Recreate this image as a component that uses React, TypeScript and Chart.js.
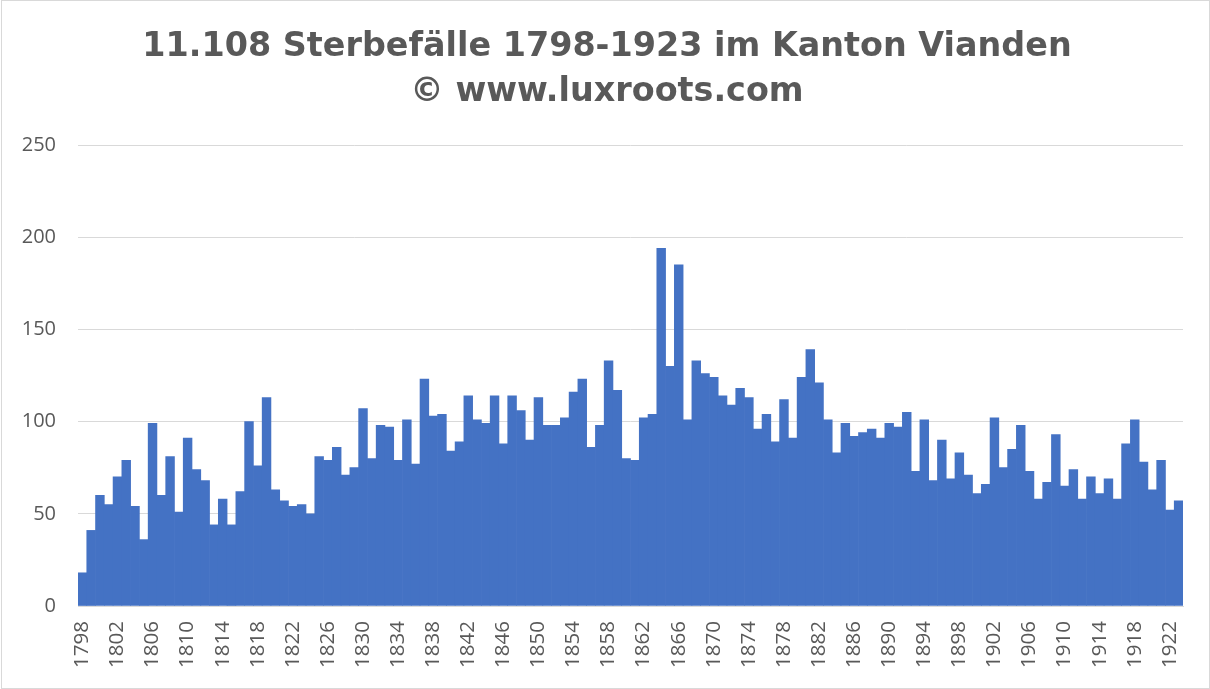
import React, { useEffect, useRef } from "react";
import { Chart, registerables } from "chart.js";

Chart.register(...registerables);

const startYear = 1798;
const deaths: number[] = [
  18, 41, 60, 55, 70, 79, 54, 36, 99, 60, // 1798-1807
  81, 51, 91, 74, 68, 44, 58, 44, 62, 100, // 1808-1817
  76, 113, 63, 57, 54, 55, 50, 81, 79, 86, // 1818-1827
  71, 75, 107, 80, 98, 97, 79, 101, 77, 123, // 1828-1837
  103, 104, 84, 89, 114, 101, 99, 114, 88, 114, // 1838-1847
  106, 90, 113, 98, 98, 102, 116, 123, 86, 98, // 1848-1857
  133, 117, 80, 79, 102, 104, 194, 130, 185, 101, // 1858-1867
  133, 126, 124, 114, 109, 118, 113, 96, 104, 89, // 1868-1877
  112, 91, 124, 139, 121, 101, 83, 99, 92, 94, // 1878-1887
  96, 91, 99, 97, 105, 73, 101, 68, 90, 69, // 1888-1897
  83, 71, 61, 66, 102, 75, 85, 98, 73, 58, // 1898-1907
  67, 93, 65, 74, 58, 70, 61, 69, 58, 88, // 1908-1917
  101, 78, 63, 79, 52, 57, // 1918-1923
];
const years: string[] = deaths.map((_, i) => String(startYear + i));
const titleLines: string[] = [
  "11.108 Sterbefälle 1798-1923 im Kanton Vianden",
  "© www.luxroots.com",
];

const bgPlugin = {
  id: "bgBorder",
  beforeDraw(chart: any) {
    const { ctx, width, height } = chart;
    ctx.save();
    ctx.fillStyle = "#ffffff";
    ctx.fillRect(0, 0, width, height);
    ctx.strokeStyle = "#d9d9d9";
    ctx.lineWidth = 1;
    ctx.strokeRect(1.5, 0.5, width - 2, height - 1);
    ctx.restore();
  },
  afterDraw(chart: any) {
    const { ctx } = chart;
    ctx.save();
    ctx.fillStyle = "#595959";
    ctx.font = "bold 33.4px 'DejaVu Sans', Verdana, sans-serif";
    ctx.textAlign = "center";
    ctx.textBaseline = "middle";
    ctx.fillText(titleLines[0], 607, 47);
    ctx.fillText(titleLines[1], 607, 92);
    ctx.restore();
  },
};

export default function App() {
  const ref = useRef<HTMLCanvasElement | null>(null);
  useEffect(() => {
    if (!ref.current) return;
    const chart = new Chart(ref.current, {
      type: "bar",
      data: {
        labels: years,
        datasets: [
          {
            data: deaths,
            backgroundColor: "#4472C4",
            borderWidth: 0,
            barPercentage: 1,
            categoryPercentage: 1,
          },
        ],
      },
      options: {
        responsive: false,
        animation: false,
        layout: { padding: { left: 0, right: 27, top: 145, bottom: 0 } },
        plugins: {
          legend: { display: false },
          tooltip: { enabled: false },
          title: { display: false },
        },
        scales: {
          x: {
            grid: { display: false, drawTicks: false },
            border: { display: true, color: "#d9d9d9", width: 1 },
            ticks: {
              autoSkip: false,
              minRotation: 90,
              maxRotation: 90,
              padding: 15,
              color: "#595959",
              font: { family: "'Open Sans', 'Noto Sans', sans-serif", size: 20.5 },
              callback: (_v: any, i: number) => (i % 4 === 0 ? years[i] : ""),
            },
            afterFit: (s: any) => {
              s.height = 83;
              s.paddingLeft = 0;
              s.paddingRight = 0;
            },
          },
          y: {
            min: 0,
            max: 250,
            grid: { color: "#d9d9d9", lineWidth: 1, drawTicks: false },
            border: { display: false },
            ticks: {
              stepSize: 50,
              padding: 22,
              color: "#595959",
              font: { family: "'Open Sans', 'Noto Sans', sans-serif", size: 20 },
            },
            afterFit: (s: any) => {
              s.width = 78;
            },
          },
        },
      },
      plugins: [bgPlugin],
    });
    return () => chart.destroy();
  }, []);
  return (
    <div style={{ position: "fixed", left: 0, top: 0, width: 1210, height: 689, background: "#fff" }}>
      <canvas ref={ref} width={1210} height={689} style={{ display: "block" }} />
    </div>
  );
}
